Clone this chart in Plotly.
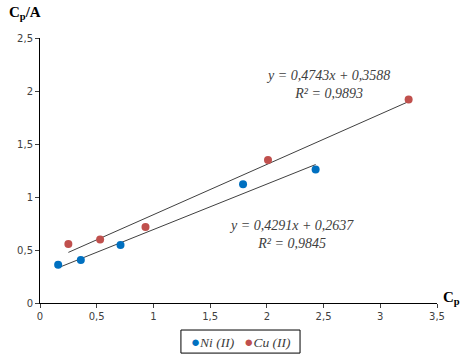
import plotly.graph_objects as go

ni_x = [0.16, 0.36, 0.71, 1.79, 2.43]
ni_y = [0.36, 0.405, 0.547, 1.12, 1.26]
cu_x = [0.25, 0.53, 0.93, 2.01, 3.25]
cu_y = [0.557, 0.60, 0.717, 1.35, 1.92]

ni_slope, ni_intercept, ni_r2 = 0.4291, 0.2637, 0.9845
cu_slope, cu_intercept, cu_r2 = 0.4743, 0.3588, 0.9893

series_names = ["Ni (II)", "Cu (II)"]
series_colors = ["#0070C0", "#C0504D"]

x_ticks = [0, 0.5, 1, 1.5, 2, 2.5, 3, 3.5]
y_ticks = [0, 0.5, 1, 1.5, 2, 2.5]

serif = "Liberation Serif"
sans = "DejaVu Sans"

def fmt(v):
    return f"{v:.4f}".replace(".", ",")

fig = go.Figure()

for xs, slope, icpt in [(ni_x, ni_slope, ni_intercept), (cu_x, cu_slope, cu_intercept)]:
    tx = [min(xs), max(xs)]
    fig.add_trace(go.Scatter(x=tx, y=[slope * v + icpt for v in tx], mode="lines",
                             line=dict(color="#404040", width=1), showlegend=False,
                             hoverinfo="skip"))

for xs, ys, name, col in [(ni_x, ni_y, series_names[0], series_colors[0]),
                          (cu_x, cu_y, series_names[1], series_colors[1])]:
    fig.add_trace(go.Scatter(x=xs, y=ys, mode="markers", name=name,
                             marker=dict(color=col, size=8), showlegend=False))

fig.add_annotation(x=2.54, y=2.065, xref="x", yref="y",
                   text=f"<i>y = {fmt(cu_slope)}x + {fmt(cu_intercept)}<br>R² = {fmt(cu_r2)}</i>",
                   showarrow=False, font=dict(family=serif, size=14, color="#404040"))
fig.add_annotation(x=2.22, y=0.65, xref="x", yref="y",
                   text=f"<i>y = {fmt(ni_slope)}x + {fmt(ni_intercept)}<br>R² = {fmt(ni_r2)}</i>",
                   showarrow=False, font=dict(family=serif, size=14, color="#404040"))

fig.add_annotation(x=-0.082, y=1.095, xref="paper", yref="paper", xanchor="left", yanchor="middle",
                   text="<b>C<sub>p</sub>/A</b>", showarrow=False,
                   font=dict(family=serif, size=15, color="black"))
fig.add_annotation(x=1.01, y=0.02, xref="paper", yref="paper", xanchor="left", yanchor="middle",
                   text="<b>C<sub>p</sub></b>", showarrow=False,
                   font=dict(family=serif, size=15, color="black"))

# legend box
fig.add_shape(type="rect", xref="paper", yref="paper", x0=0.355, x1=0.655, y0=-0.189, y1=-0.102,
              line=dict(color="black", width=1), fillcolor="white")
legend_text = "&nbsp;&nbsp;&nbsp;".join(
    f"<span style='color:{c};font-size:15px'>●</span><i>{n}</i>"
    for n, c in zip(series_names, series_colors))
fig.add_annotation(x=0.507, y=-0.1455, xref="paper", yref="paper", xanchor="center", yanchor="middle",
                   text=legend_text, showarrow=False,
                   font=dict(family=serif, size=13.5, color="#404040"))

axis_common = dict(showgrid=False, zeroline=False, showline=True, linecolor="black",
                   linewidth=1, ticks="outside", ticklen=4, tickcolor="#404040",
                   tickfont=dict(family=sans, size=10, color="#404040"))

fig.update_layout(
    width=472, height=360,
    margin=dict(l=40, r=35, t=38, b=57),
    plot_bgcolor="white", paper_bgcolor="white",
    separators=", ",
    xaxis=dict(range=[0, 3.5], tickvals=x_ticks, **axis_common),
    yaxis=dict(range=[0, 2.5], tickvals=y_ticks, **axis_common),
    showlegend=False,
)

fig.write_html("out.html", config={"displayModeBar": False},
               post_script="document.body.style.margin='0';document.body.style.overflow='hidden';")
